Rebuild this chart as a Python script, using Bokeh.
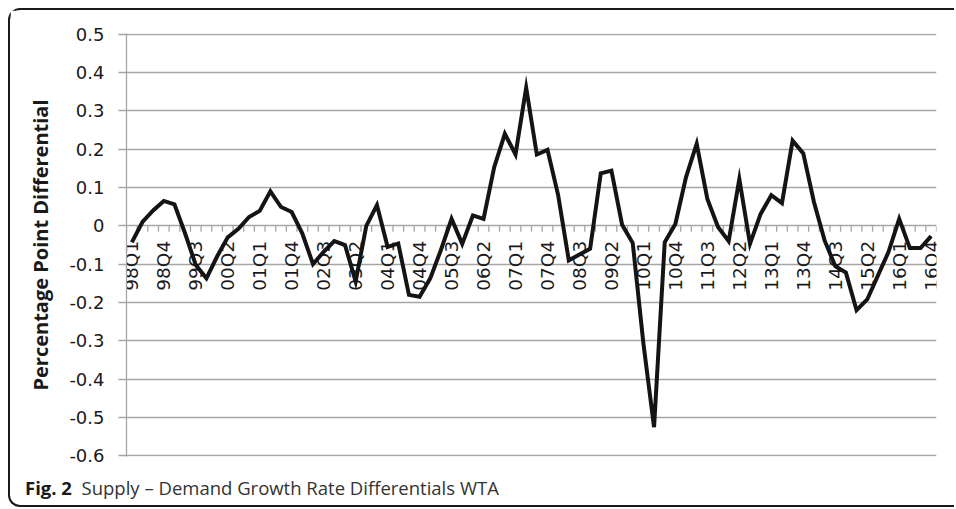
import math
from bokeh.plotting import figure
from bokeh.layouts import column
from bokeh.models import Range1d, FixedTicker, Div
from bokeh.core.properties import value
from bokeh.embed import file_html
from bokeh.resources import INLINE

# ---- data -------------------------------------------------------------
years = ["98", "99", "00", "01", "02", "03", "04", "05", "06", "07",
         "08", "09", "10", "11", "12", "13", "14", "15", "16"]
quarters = [y + "Q" + str(q) for y in years for q in (1, 2, 3, 4)]

differential = [
    -0.043, 0.010, 0.040, 0.065, 0.056, -0.020, -0.102, -0.137,   # 98Q1-99Q4
    -0.080, -0.030, -0.008, 0.023, 0.039, 0.090, 0.049, 0.036,    # 00Q1-01Q4
    -0.020, -0.100, -0.068, -0.040, -0.050, -0.145, 0.000, 0.054, # 02Q1-03Q4
    -0.055, -0.046, -0.180, -0.185, -0.137, -0.063, 0.018, -0.047,# 04Q1-05Q4
    0.027, 0.018, 0.153, 0.240, 0.186, 0.360, 0.186, 0.198,       # 06Q1-07Q4
    0.080, -0.090, -0.075, -0.060, 0.137, 0.144, 0.003, -0.045,   # 08Q1-09Q4
    -0.307, -0.525, -0.043, 0.005, 0.127, 0.214, 0.070, -0.003,   # 10Q1-11Q4
    -0.040, 0.122, -0.047, 0.031, 0.080, 0.059, 0.222, 0.189,     # 12Q1-13Q4
    0.062, -0.038, -0.105, -0.122, -0.220, -0.192, -0.130, -0.068,# 14Q1-15Q4
    0.018, -0.058, -0.058, -0.027,                                # 16Q1-16Q4
]

x_tick_labels = ["98Q1", "98Q4", "99Q3", "00Q2", "01Q1", "01Q4", "02Q3",
                 "03Q2", "04Q1", "04Q4", "05Q3", "06Q2", "07Q1", "07Q4",
                 "08Q3", "09Q2", "10Q1", "10Q4", "11Q3", "12Q2", "13Q1",
                 "13Q4", "14Q3", "15Q2", "16Q1", "16Q4"]

y_ticks = [0.5, 0.4, 0.3, 0.2, 0.1, 0, -0.1, -0.2, -0.3, -0.4, -0.5, -0.6]
y_tick_labels = ["0.5", "0.4", "0.3", "0.2", "0.1", "0", "-0.1", "-0.2",
                 "-0.3", "-0.4", "-0.5", "-0.6"]

y_title = "Percentage Point Differential"
caption_bold = "Fig. 2"
caption_rest = "Supply \u2013 Demand Growth Rate Differentials WTA"

# ---- main chart ---------------------------------------------------------
idx = list(range(len(quarters)))
label_idx = [quarters.index(q) for q in x_tick_labels]
bounds = [i - 0.5 for i in idx] + [idx[-1] + 0.5]

GRID = "#a6a6a6"
INK = "#1a1a1a"
W = 944

p = figure(width=W, height=460, output_backend="svg", toolbar_location=None,
           x_range=Range1d(-0.5, len(quarters) - 0.5),
           y_range=Range1d(-0.6015, 0.5015),
           min_border_left=116, min_border_right=18,
           min_border_top=23, min_border_bottom=14)
p.outline_line_color = None
p.background_fill_color = "white"
p.border_fill_color = "white"

p.xaxis.visible = False
p.xgrid.visible = False

p.yaxis.ticker = FixedTicker(ticks=y_ticks)
p.yaxis.major_label_overrides = {v: s for v, s in zip(y_ticks, y_tick_labels)}
p.yaxis.axis_line_color = GRID
p.yaxis.axis_line_width = 1.3
p.yaxis.major_tick_line_color = GRID
p.yaxis.major_tick_line_width = 1.3
p.yaxis.major_tick_out = 8
p.yaxis.major_tick_in = 0
p.yaxis.minor_tick_line_color = None
p.yaxis.major_label_standoff = 14
p.yaxis.major_label_text_font = "DejaVu Sans"
p.yaxis.major_label_text_font_size = "18px"
p.yaxis.major_label_text_color = INK
p.yaxis.axis_label = y_title
p.yaxis.axis_label_text_font = "Open Sans"
p.yaxis.axis_label_text_font_style = "bold"
p.yaxis.axis_label_text_font_size = "20px"
p.yaxis.axis_label_text_color = INK
p.yaxis.axis_label_standoff = 12

p.ygrid.ticker = FixedTicker(ticks=y_ticks)
p.ygrid.grid_line_color = GRID
p.ygrid.grid_line_width = 1.3

# category tick marks on the zero line
p.ray(x=bounds, y=[0] * len(bounds), length=6, length_units="screen",
      angle=-math.pi / 2, line_color=GRID, line_width=1.3)

# category labels, rotated, hanging below the zero line
p.text(x=label_idx, y=[0] * len(label_idx), text=x_tick_labels,
       angle=math.pi / 2, text_align="right", text_baseline="middle",
       y_offset=15, text_font=value("DejaVu Sans"), text_font_size="18.5px",
       text_color=INK)

p.line(idx, differential, line_color="#141414", line_width=4,
       line_join="miter")

# ---- caption -------------------------------------------------------------
cap_html = (
    '<div style="font-family:\'Open Sans\',sans-serif;font-size:18.5px;'
    'line-height:25px;color:#333333;padding:5px 0 0 15px;white-space:nowrap;">'
    '<b style="color:#1a1a1a;">' + caption_bold + '</b>&nbsp; '
    + caption_rest + '</div>'
)
cap = Div(text=cap_html, width=W, height=35, margin=0)

layout = column(p, cap, spacing=0,
                styles={"margin-left": "8px", "margin-top": "8px",
                        "border": "2px solid #1a1a1a", "border-right": "none",
                        "border-radius": "12px 0 0 12px"})

open("out.html", "w").write(file_html(layout, INLINE))
